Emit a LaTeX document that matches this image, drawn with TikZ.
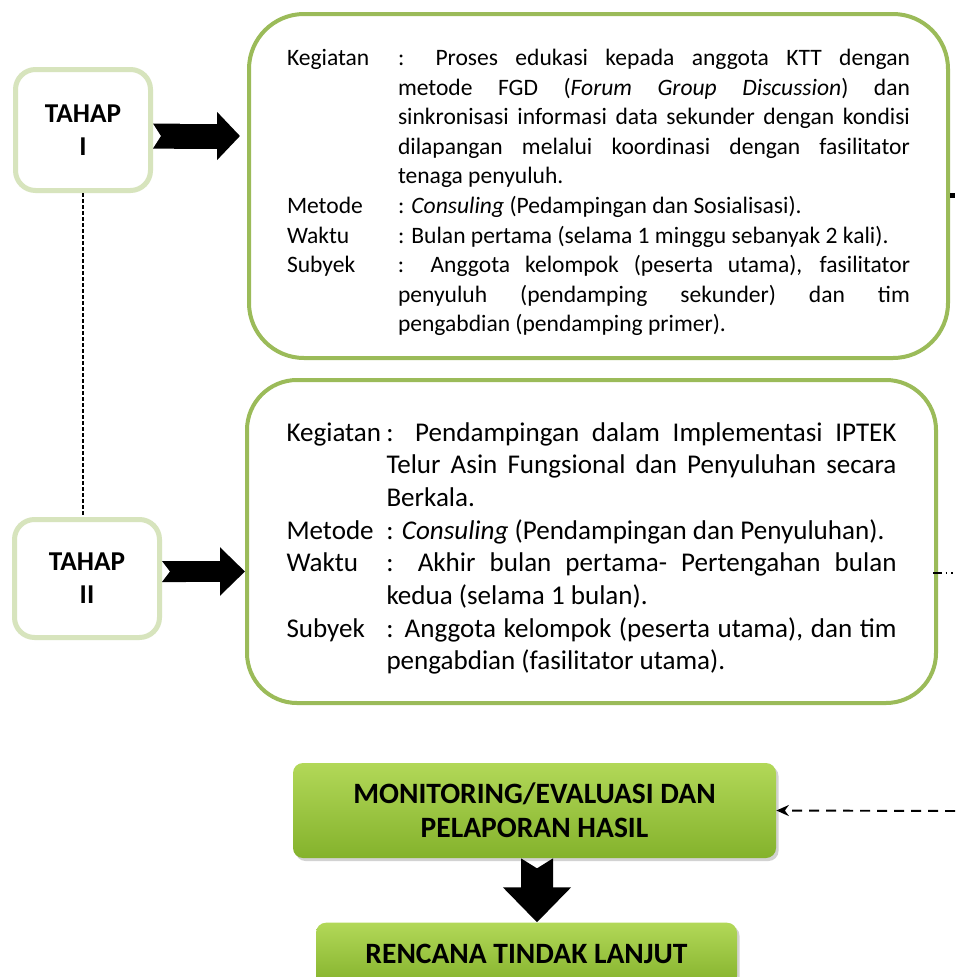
\documentclass[tikz,border=0pt]{standalone}
\usepackage{fontspec}
\setmainfont{Carlito}
\usetikzlibrary{positioning, arrows.meta, shadows}
\definecolor{hijau}{HTML}{9BBB59}
\definecolor{hijaumuda}{HTML}{D7E4BD}
\definecolor{hijauatas}{RGB}{178,216,88}
\definecolor{hijaubawah}{RGB}{132,178,44}

% one row: label, then the body hanging under the body start
\newcommand{\baris}[3]{\par\noindent\spaceskip=0.226em plus 0.2em minus 0.06em\relax
  \hangindent=#1\hangafter=1\makebox[#1][l]{#2}#3\par}

\begin{document}
\begin{tikzpicture}[node distance=1.28cm,
  tahap node/.style={draw=hijaumuda, line width=0.1cm, rounded corners=0.4cm,
    align=center, inner sep=0pt, font=\fontsize{15.5}{18.8}\selectfont\bfseries},
  isi node/.style={draw=hijau, line width=0.08cm, inner sep=0pt, align=justify},
  hasil node/.style={rounded corners=0.2cm, top color=hijauatas, bottom color=hijaubawah,
    drop shadow={shadow xshift=0.05cm, shadow yshift=-0.06cm, opacity=0.35},
    align=center, inner sep=0pt, font=\fontsize{16.8}{19.3}\selectfont\bfseries},
  panah besar/.style={line width=#1}]

\useasboundingbox (0,0) rectangle (19.1,-19.54);
\fill[white] (0,0) rectangle (19.1,-19.54);

\node[tahap node, minimum width=2.7cm, minimum height=2.42cm] (tahap1) at (1.66,-2.6) {TAHAP\\I};
\node[tahap node, minimum width=2.9cm, minimum height=2.36cm] (tahap2) at (1.74,-11.57) {TAHAP\\II};

\node[isi node, rounded corners=1.1cm, minimum width=13.98cm, minimum height=6.88cm,
  text width=12.46cm, font=\fontsize{13.4}{16.8}\selectfont] (keg1) at (11.97,-3.72) {%
  \baris{2.22cm}{Kegiatan}{: Proses edukasi kepada anggota KTT dengan\linebreak
    metode FGD (\textit{Forum Group Discussion}) dan\linebreak
    sinkronisasi informasi data sekunder dengan kondisi\linebreak
    dilapangan melalui koordinasi dengan fasilitator\linebreak
    tenaga penyuluh.}
  \baris{2.22cm}{Metode}{: \textit{Consuling} (Pedampingan dan Sosialisasi).}
  \baris{2.22cm}{Waktu}{: Bulan pertama (selama 1 minggu sebanyak 2 kali).}
  \baris{2.22cm}{Subyek}{: Anggota kelompok (peserta utama), fasilitator\linebreak
    penyuluh (pendamping sekunder) dan tim\linebreak
    pengabdian (pendamping primer).}\vspace{0.12cm}};

\node[isi node, rounded corners=1cm, minimum width=13.78cm, minimum height=6.46cm,
  text width=12.2cm, font=\fontsize{15.4}{18.6}\selectfont] (keg2) at (11.83,-10.83) {%
  \baris{2cm}{Kegiatan}{: Pendampingan dalam Implementasi IPTEK\linebreak
    Telur Asin Fungsional dan Penyuluhan secara\linebreak
    Berkala.}
  \baris{2cm}{Metode}{: \textit{Consuling} (Pendampingan dan Penyuluhan).}
  \baris{2cm}{Waktu}{: Akhir bulan pertama- Pertengahan bulan\linebreak
    kedua (selama 1 bulan).}
  \baris{2cm}{Subyek}{: Anggota kelompok (peserta utama), dan tim\linebreak
    pengabdian (fasilitator utama).}\vspace{0.28cm}};

\node[hasil node, minimum width=9.66cm, minimum height=1.9cm] (monev) at (10.69,-16.21)
  {MONITORING/EVALUASI DAN\\PELAPORAN HASIL};
\node[hasil node, minimum width=8.42cm, minimum height=1.26cm, below=of monev,
  xshift=-0.16cm] (rtl) {RENCANA TINDAK LANJUT};

% thick arrows
\draw[panah besar=0.5cm, {Triangle Cap[reversed, length=0.16cm]}-{Triangle[length=0.46cm, width=0.94cm]},
  shorten >=0.14cm]
  ([yshift=-0.12cm]tahap1.east) -- ([yshift=-0.12cm]tahap1.east -| keg1.west);
\draw[panah besar=0.42cm, {Triangle Cap[reversed, length=0.16cm]}-{Triangle[length=0.5cm, width=0.94cm]}]
  ([yshift=0.14cm]tahap2.east) -- ([yshift=0.14cm]tahap2.east -| keg2.west);
\draw[panah besar=0.64cm, {Triangle Cap[reversed, length=0.2cm]}-{Triangle[length=0.7cm, width=1.32cm]}]
  ([xshift=0.05cm]monev.south) -- ([xshift=0.05cm]monev.south |- rtl.north);

% thin links
\draw[line width=0.6pt, dash pattern=on 0.07cm off 0.05cm]
  (tahap1.south) -- (tahap1.south |- tahap2.north);
\coordinate (luar1) at (19.1,-3.9);
\coordinate (luar2) at (19.1,-11.46);
\coordinate (luar3) at (19.1,-16.22);
\draw[line width=0.1cm] (luar1 -| keg1.east) -- (luar1);
\draw[line width=0.7pt, dash pattern=on 0.17cm off 0.08cm on 0.03cm off 0.08cm on 0.03cm off 0.08cm]
  ([xshift=-0.1cm]luar2 -| keg2.east) -- (luar2);
\draw[line width=1.1pt, dash pattern=on 0.2cm off 0.14cm, -{Stealth[length=0.25cm, width=0.22cm]}]
  (luar3) -- (monev.east);

\end{tikzpicture}
\end{document}
